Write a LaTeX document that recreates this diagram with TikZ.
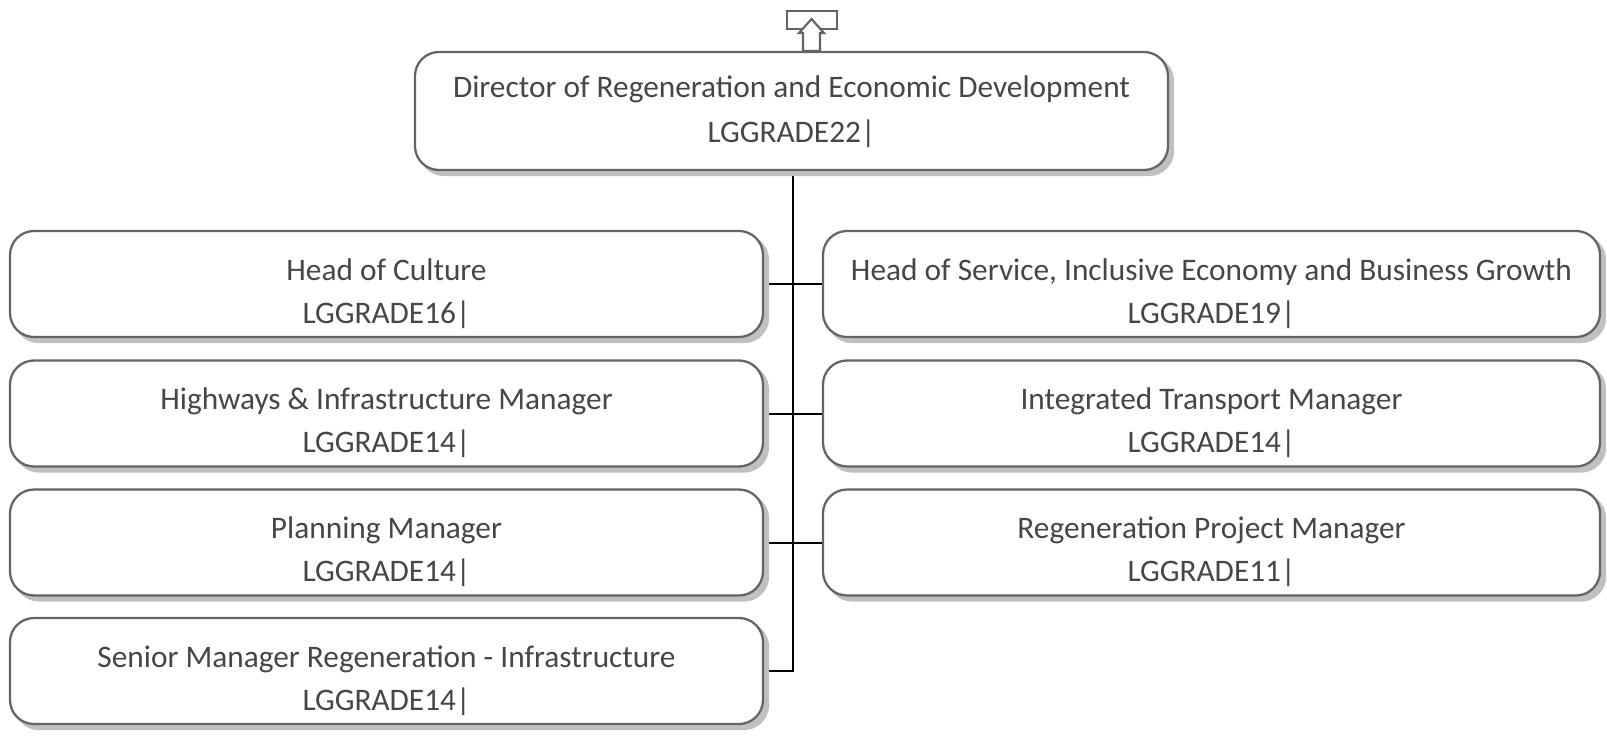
\documentclass[tikz,border=0pt]{standalone}
\usepackage{fontspec}
\setmainfont{Carlito}
\definecolor{boxline}{RGB}{100,100,100}
\definecolor{txt}{RGB}{70,70,70}
\definecolor{shad}{RGB}{192,192,192}
\tikzset{
  x=0.75pt, y=-0.75pt,
  orgbox/.style={draw=boxline, line width=1.7pt, fill=white, rounded corners=18pt, inner sep=0pt},
  shadowbox/.style={fill=shad, draw=shad, line width=1.7pt, rounded corners=18pt, inner sep=0pt},
  txtline/.style={text=txt, anchor=base, inner sep=0pt, font=\fontsize{23.5}{28}\selectfont},
  conn/.style={draw=black, line width=1.5pt},
  icon/.style={draw=boxline, line width=1.6pt}
}
% \orgunit{name}{cx}{cy}{w}{h}{dy1}{dy2}{line1}{line2}
\newcommand{\orgunit}[9]{%
  \path[shadowbox] (#2-#4/2+5,#3-#5/2+5) rectangle (#2+#4/2+5,#3+#5/2+5);
  \node[orgbox, minimum width=#4*0.75pt, minimum height=#5*0.75pt] (#1) at (#2,#3) {};
  \node[txtline] (#1-a) at (#2,#3+#6) {#8};
  \node[txtline] (#1-b) at (#2,#3+#7) {#9};
}
\begin{document}
\begin{tikzpicture}
\useasboundingbox (0,0) rectangle (1607,744);
% connectors (drawn first, boxes cover ends)
\coordinate (j0) at (793,111);
\coordinate (j4) at (793,671);
\draw[conn] (j0) -- (j4) -- (386.5,671);
\draw[conn] (386.5,284) -- (1211.5,284);
\draw[conn] (386.5,413.5) -- (1211.5,413.5);
\draw[conn] (386.5,542.5) -- (1211.5,542.5);
% boxes
\orgunit{dir}{791.5}{111}{753}{118}{-14}{31}{Director of Regeneration and Economic Development}{LGGRADE22|}
\orgunit{l1}{386.5}{284}{753}{106}{-4}{39}{Head of Culture}{LGGRADE16|}
\orgunit{l2}{386.5}{413.5}{753}{106}{-4}{39}{Highways \& Infrastructure Manager}{LGGRADE14|}
\orgunit{l3}{386.5}{542.5}{753}{106}{-4}{39}{Planning Manager}{LGGRADE14|}
\orgunit{l4}{386.5}{671}{753}{106}{-4}{39}{Senior Manager Regeneration - Infrastructure}{LGGRADE14|}
\orgunit{r1}{1211.5}{284}{777}{106}{-4}{39}{Head of Service, Inclusive Economy and Business Growth}{LGGRADE19|}
\orgunit{r2}{1211.5}{413.5}{777}{106}{-4}{39}{Integrated Transport Manager}{LGGRADE14|}
\orgunit{r3}{1211.5}{542.5}{777}{106}{-4}{39}{Regeneration Project Manager}{LGGRADE11|}
% top icon
\draw[icon] (787,11) rectangle (837,29);
\draw[icon, fill=white] (811.5,19) -- (824,33) -- (820,33) -- (820,51) -- (803,51) -- (803,33) -- (799,33) -- cycle;
\end{tikzpicture}
\end{document}
